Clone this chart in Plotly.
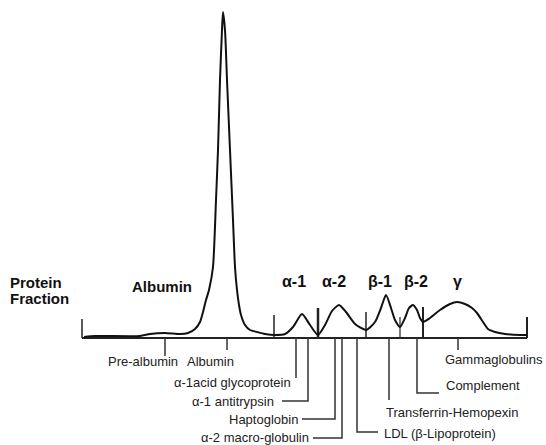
import plotly.graph_objects as go

# Densitometry trace: migration position vs. stain intensity
trace_x = [84, 95, 140, 150, 165, 180, 188, 195, 200, 203, 206, 209, 213, 216, 218, 220, 222, 223,
           225, 227, 230, 233, 235, 237, 239, 241, 245, 250, 257, 265, 275, 285, 293, 302, 310, 318,
           325, 332, 339, 346, 355, 366, 375, 381, 386, 391, 395, 400, 405, 409, 413, 417, 420, 423,
           430, 440, 450, 457, 465, 472, 477, 483, 488, 495, 505, 520, 527]
trace_y = [1, 2, 2, 4, 5, 4, 5, 9, 16, 26, 38, 48, 71, 138, 188, 258, 308, 326,
           308, 258, 188, 118, 71, 48, 33, 23, 13, 8, 6, 4, 3, 4, 11, 24, 13, 3,
           13, 27, 33, 26, 14, 8, 16, 30, 43, 30, 18, 11, 20, 30, 33, 28, 20, 16,
           20, 28, 34, 36, 34, 30, 25, 16, 9, 6, 4, 3, 3]

axis_start = 82
axis_end = 527

# Fraction dividers (above baseline)
divider_x = [82, 274, 318, 366, 400, 423, 527]
divider_top = [19, 23, 30, 26, 21, 31, 21]
divider_w = [1.5, 1.5, 2.5, 1.5, 1.2, 2, 2]

# Fraction names
fraction_names = ["Albumin", "α-1", "α-2", "β-1", "β-2", "γ"]
fraction_name_x = [162, 294, 334, 380, 416, 457]
fraction_name_y = [52, 57, 57, 57, 57, 57]

# Protein markers below baseline
protein_names = ["Pre-albumin", "Albumin", "α-1acid glycoprotein", "α-1 antitrypsin",
                 "Haptoglobin", "α-2 macro-globulin", "LDL (β-Lipoprotein)",
                 "Transferrin-Hemopexin", "Complement", "Gammaglobulins"]
marker_x = [165, 227, 296, 308, 335, 342, 357, 389, 417, 458]
marker_end = [-18, -12, -40, -63, -81, -100, -94, -62, -55, -12]
hook_x = [None, None, None, 282, 302, 313, 378, None, 439, None]
label_x = [143, 210, 293, 276, 300, 311, 382, 384, 444, 443]
label_y = [-23, -23, -44, -63, -81, -99, -95, -74, -47, -21]
label_anchor = ["center", "center", "right", "right", "right", "right", "left", "left", "left", "left"]

fig = go.Figure()

# Baseline
fig.add_trace(go.Scatter(x=[axis_start, axis_end], y=[0, 0], mode="lines",
                         line=dict(color="#222", width=2), hoverinfo="skip"))
# Dividers
for dx, dt, dw in zip(divider_x, divider_top, divider_w):
    fig.add_trace(go.Scatter(x=[dx, dx], y=[0, dt], mode="lines",
                             line=dict(color="#222", width=dw), hoverinfo="skip"))
# Marker leaders
for mx, me, hx in zip(marker_x, marker_end, hook_x):
    xs = [mx, mx] + ([hx] if hx is not None else [])
    ys = [0, me] + ([me] if hx is not None else [])
    fig.add_trace(go.Scatter(x=xs, y=ys, mode="lines",
                             line=dict(color="#333", width=1.5), hoverinfo="skip"))
# Trace
fig.add_trace(go.Scatter(x=trace_x, y=trace_y, mode="lines",
                         line=dict(color="#111", width=2, shape="spline", smoothing=0.6),
                         hoverinfo="skip"))

FONT = "Liberation Sans, Arial, Helvetica"
ann = []
ann.append(dict(x=8, y=56, text="<b>Protein</b>", xanchor="left", yanchor="middle",
                showarrow=False, font=dict(size=15, family=FONT, color="#111")))
ann.append(dict(x=8, y=40, text="<b>Fraction</b>", xanchor="left", yanchor="middle",
                showarrow=False, font=dict(size=15, family=FONT, color="#111")))
for t, x, y in zip(fraction_names, fraction_name_x, fraction_name_y):
    size = 15 if t == "Albumin" else 16
    ann.append(dict(x=x, y=y, text="<b>" + t + "</b>", xanchor="center", yanchor="middle",
                    showarrow=False, font=dict(size=size, family=FONT, color="#111")))
for t, x, y, a in zip(protein_names, label_x, label_y, label_anchor):
    ann.append(dict(x=x, y=y, text=t, xanchor=a, yanchor="middle", showarrow=False,
                    font=dict(size=13, family=FONT, color="#222")))

fig.update_layout(
    width=546, height=445,
    margin=dict(l=0, r=0, t=0, b=0),
    paper_bgcolor="white", plot_bgcolor="white",
    showlegend=False,
    xaxis=dict(range=[0, 546], visible=False, fixedrange=True),
    yaxis=dict(range=[-107, 338], visible=False, fixedrange=True),
    annotations=ann,
)

fig.write_html("out.html", config={"displayModeBar": False},
               post_script="document.body.style.margin='0';document.body.style.padding='0';")
